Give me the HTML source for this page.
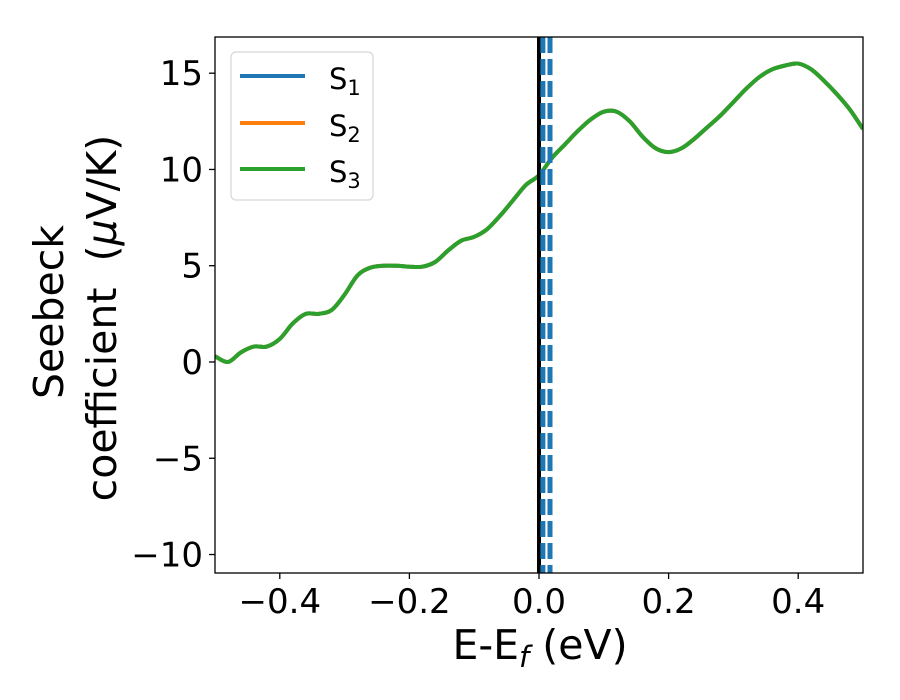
<!DOCTYPE html>
<html><head><meta charset="utf-8"><style>
html,body{margin:0;padding:0;background:#fff;}
svg{display:block;font-family:"DejaVu Sans","Liberation Sans",sans-serif;}
</style></head><body>
<svg id="chart" width="900" height="700">
<g id="plot"></g>
<g id="axes"></g>
<text x="540" y="659" font-size="41" text-anchor="middle">E-E<tspan font-style="italic" font-size="29" dy="8">f</tspan><tspan dy="-8"> (eV)</tspan></text>
<text transform="translate(63,312) rotate(-90)" font-size="41" text-anchor="middle">Seebeck</text>
<text transform="translate(116,318) rotate(-90)" font-size="41" text-anchor="middle" xml:space="preserve">coefficient  (<tspan font-style="italic">μ</tspan>V/K)</text>
<g>
<rect x="231" y="52" width="142" height="148" rx="5" fill="#fff" stroke="#d6d6d6" stroke-width="1.2"/>
<line x1="240" y1="76" x2="305" y2="76" stroke="#1f77b4" stroke-width="4"/>
<text x="329" y="89" font-size="29">S<tspan font-size="21" dy="6">1</tspan></text>
<line x1="240" y1="123" x2="305" y2="123" stroke="#ff7f0e" stroke-width="4"/>
<text x="329" y="136" font-size="29">S<tspan font-size="21" dy="6">2</tspan></text>
<line x1="240" y1="169" x2="305" y2="169" stroke="#2ca02c" stroke-width="4"/>
<text x="329" y="182" font-size="29">S<tspan font-size="21" dy="6">3</tspan></text>
</g>
</svg>
<script>
const energies=[-0.5,-0.48,-0.46,-0.44,-0.42,-0.40,-0.38,-0.36,-0.34,-0.32,-0.30,-0.28,-0.26,-0.24,-0.22,-0.20,-0.18,-0.16,-0.14,-0.12,-0.10,-0.08,-0.06,-0.04,-0.02,0.0,0.02,0.04,0.06,0.08,0.10,0.12,0.14,0.16,0.18,0.20,0.22,0.24,0.26,0.28,0.30,0.32,0.34,0.36,0.38,0.40,0.42,0.44,0.46,0.48,0.50];
const seebeckS3=[0.3,0.0,0.5,0.8,0.8,1.2,2.0,2.5,2.5,2.7,3.5,4.5,4.9,5.0,5.0,4.95,4.95,5.2,5.8,6.3,6.5,6.9,7.6,8.4,9.2,9.7,10.6,11.3,12.0,12.6,13.0,13.0,12.5,11.7,11.1,10.9,11.1,11.6,12.2,12.8,13.5,14.2,14.8,15.2,15.4,15.5,15.2,14.6,13.9,13.1,12.1];
const seebeckS2=seebeckS3.slice();
const seebeckS1=seebeckS3.slice();
const fermiLines=[0.006,0.017];
const xTicks=[-0.4,-0.2,0.0,0.2,0.4];
const xTickLabels=["−0.4","−0.2","0.0","0.2","0.4"];
const yTicks=[-10,-5,0,5,10,15];
const yTickLabels=["−10","−5","0","5","10","15"];
const X0=215,X1=863,Y0=37,Y1=573;
const xMin=-0.5,xMax=0.5,yMin=-10.96,yMax=16.88;
const sx=v=>X0+(v-xMin)/(xMax-xMin)*(X1-X0);
const sy=v=>Y1-(v-yMin)/(yMax-yMin)*(Y1-Y0);
const NS="http://www.w3.org/2000/svg";
const plot=document.getElementById('plot'),axes=document.getElementById('axes');
function mk(tag,attrs,parent){const e=document.createElementNS(NS,tag);for(const k in attrs)e.setAttribute(k,attrs[k]);parent.appendChild(e);return e;}
const defs=mk('defs',{},plot);
const cp=mk('clipPath',{id:'clip'},defs);
mk('rect',{x:X0,y:Y0,width:X1-X0,height:Y1-Y0},cp);
const g=mk('g',{'clip-path':'url(#clip)'},plot);
function smoothPath(xs,ys){const p=xs.map((x,i)=>[sx(x),sy(ys[i])]);let d=`M${p[0][0]},${p[0][1]}`;
for(let i=0;i<p.length-1;i++){const a=p[Math.max(0,i-1)],b=p[i],c=p[i+1],e=p[Math.min(p.length-1,i+2)];
d+=` C${b[0]+(c[0]-a[0])/6},${b[1]+(c[1]-a[1])/6} ${c[0]-(e[0]-b[0])/6},${c[1]-(e[1]-b[1])/6} ${c[0]},${c[1]}`;}return d;}
const series=[[seebeckS1,'#1f77b4','series-s1'],[seebeckS2,'#ff7f0e','series-s2'],[seebeckS3,'#2ca02c','series-s3']];
series.forEach(s=>{const p=mk('path',{d:smoothPath(energies,s[0]),fill:'none',stroke:s[1],'stroke-width':4,'stroke-linejoin':'round'},g);

});
const fl=mk('line',{x1:sx(0),x2:sx(0),y1:Y0,y2:Y1,stroke:'#000','stroke-width':4},g);


fermiLines.forEach((v,i)=>{const l=mk('line',{x1:sx(v),x2:sx(v),y1:Y0,y2:Y1,stroke:'#1f77b4','stroke-width':5,'stroke-dasharray':'16,6'},g);

});
const frame=mk('rect',{x:X0,y:Y0,width:X1-X0,height:Y1-Y0,fill:'none',stroke:'#000','stroke-width':1.3},axes);


xTicks.forEach((v,i)=>{mk('line',{x1:sx(v),x2:sx(v),y1:Y1,y2:Y1+6,stroke:'#000','stroke-width':1.3},axes);
const t=mk('text',{x:sx(v),y:Y1+40,'font-size':34,'text-anchor':'middle'},axes);t.textContent=xTickLabels[i];

});
yTicks.forEach((v,i)=>{mk('line',{x1:X0-6,x2:X0,y1:sy(v),y2:sy(v),stroke:'#000','stroke-width':1.3},axes);
const t=mk('text',{x:X0-12,y:sy(v)+12,'font-size':34,'text-anchor':'end'},axes);t.textContent=yTickLabels[i];

});
</script>
</body></html>
